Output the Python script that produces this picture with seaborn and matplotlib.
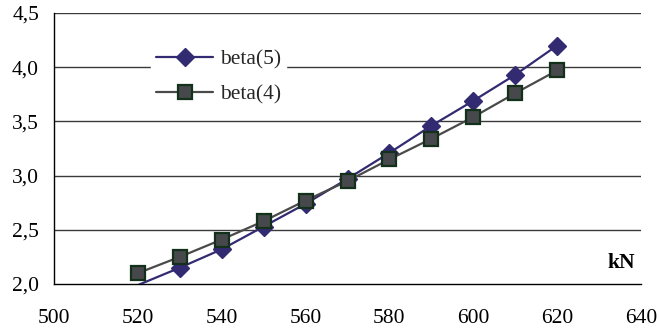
import matplotlib
matplotlib.use("Agg")
import matplotlib.pyplot as plt
from matplotlib.ticker import FuncFormatter
import seaborn as sns
import pandas as pd

# Load (kN) and reliability index for the two cases
load_kn = [520, 530, 540, 550, 560, 570, 580, 590, 600, 610, 620]
beta5 = [1.99, 2.15, 2.32, 2.53, 2.74, 2.97, 3.21, 3.46, 3.69, 3.93, 4.20]
beta4 = [2.10, 2.25, 2.41, 2.58, 2.77, 2.95, 3.15, 3.34, 3.54, 3.76, 3.97]
series_names = ["beta(5)", "beta(4)"]

Y_MIN, Y_MAX = 2.0, 4.5

df = pd.DataFrame({
    "kN": load_kn * 2,
    "beta": beta5 + beta4,
    "series": [series_names[0]] * len(load_kn) + [series_names[1]] * len(load_kn),
})

sns.set_style("white")
plt.rcParams["font.family"] = ["Liberation Serif", "DejaVu Serif"]
FS = 15.5

fig = plt.figure(figsize=(6.59, 3.29), dpi=100)
ax = fig.add_axes([54 / 659, 1 - 284 / 329, (641 - 54) / 659, (284 - 13) / 329])

styles = {
    "beta(5)": dict(color="#322B72", marker="D", markersize=9.5,
                    markerfacecolor="#322B72", markeredgecolor="#322B72",
                    markeredgewidth=1.0),
    "beta(4)": dict(color="#4A4A4A", marker="s", markersize=10,
                    markerfacecolor="#46484C", markeredgecolor="#12301A",
                    markeredgewidth=1.6),
}
for name in series_names:
    sub = df[df["series"] == name].reset_index(drop=True)
    # markers are only shown for points inside the value range
    visible = [i for i, v in enumerate(sub["beta"]) if v >= Y_MIN]
    sns.lineplot(data=sub, x="kN", y="beta", ax=ax, label=name,
                 linewidth=1.6, zorder=3, markevery=visible, **styles[name])

ax.set_xlim(500, 640)
ax.set_ylim(Y_MIN, Y_MAX)
ax.set_xticks(range(500, 641, 20))
ax.set_yticks([2.0, 2.5, 3.0, 3.5, 4.0, 4.5])
ax.yaxis.set_major_formatter(FuncFormatter(lambda v, p: f"{v:.1f}".replace(".", ",")))
ax.set_xlabel("")
ax.set_ylabel("")

ax.grid(False)
for yv in [2.5, 3.0, 3.5, 4.0, 4.5]:
    ax.axhline(yv, color="#3A3A3A", linewidth=1.0, zorder=1)

for side in ["top", "right"]:
    ax.spines[side].set_visible(False)
for side in ["left", "bottom"]:
    ax.spines[side].set_color("black")
    ax.spines[side].set_linewidth(1.0)

ax.tick_params(axis="both", which="major", direction="inout", length=9.5,
               width=1.0, color="black", labelsize=FS, labelcolor="black")
ax.tick_params(axis="x", pad=13)
ax.tick_params(axis="y", pad=6)

ax.text(635 / 659, 1 - 263 / 329, "kN", transform=fig.transFigure,
        ha="right", va="center", fontsize=FS, fontweight="bold", color="black")

leg = ax.legend(loc="upper left", bbox_to_anchor=(151 / 659, 1 - 44 / 329),
                bbox_transform=fig.transFigure, borderaxespad=0,
                frameon=True, fancybox=False, framealpha=1.0,
                edgecolor="white", facecolor="white", fontsize=FS,
                handlelength=2.65, handletextpad=0.3, labelspacing=0.7,
                borderpad=0.25)
leg.set_zorder(2)

fig.savefig("out.png", dpi=100)
